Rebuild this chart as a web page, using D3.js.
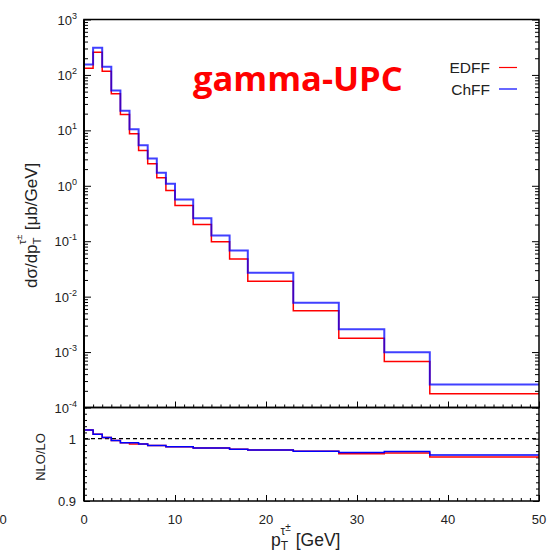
<!DOCTYPE html>
<html><head><meta charset="utf-8">
<script src="https://cdn.jsdelivr.net/npm/d3@7"></script>
<style>
html,body{margin:0;padding:0;background:#fff;}
svg{display:block;}
text{font-family:"Liberation Sans",Arial,sans-serif;fill:#222;}
</style></head>
<body><svg id="c" width="551" height="552"></svg>
<script>
// ---- data ----
const binEdges = [0,1,2,3,4,5,6,7,8,9,10,12,14,16,18,23,28,33,38,50];
const edffValues = [132,257,117,45.6,19.3,8.67,4.33,2.49,1.39,0.822,0.441,0.200,0.0975,0.048,0.019,0.00556,0.00178,0.000676,0.000177];
const chffValues = [154,308,140,52.4,22.5,10.5,5.39,3.10,1.71,1.09,0.566,0.260,0.127,0.068,0.0269,0.00774,0.00259,0.000995,0.00026];
const edffRatio = [1.014,1.007,1.002,0.997,0.9935,0.9915,0.9915,0.989,0.989,0.987,0.987,0.985,0.985,0.983,0.9818,0.980,0.9758,0.977,0.9705];
const chffRatio = [1.014,1.007,1.002,0.997,0.9935,0.9935,0.9915,0.989,0.989,0.987,0.987,0.985,0.985,0.983,0.9818,0.980,0.978,0.9795,0.9737];
const xTickLabels = [0,10,20,30,40,50];
const yExponents = [3,2,1,0,-1,-2,-3,-4];
const ratioTickLabels = [1,0.9];
const seriesNames = ["EDFF","ChFF"];
const seriesColors = ["#ff0000","#0000ff"];

const svg = d3.select("#c");
const X0 = 84, X1 = 539, YT = 19.5, YM = 407.5, YB = 501;
const x = d3.scaleLinear().domain([0,50]).range([X0,X1]);
const y = d3.scaleLog().domain([1e-4,1e3]).range([YM,YT]);
const yr = d3.scaleLinear().domain([0.9,1.05]).range([YB,YM]);

function stepPath(vals, sc){
  const pts = vals.map((v,i)=>[binEdges[i],v]);
  pts.push([binEdges[binEdges.length-1], vals[vals.length-1]]);
  return d3.line().x(d=>x(d[0])).y(d=>sc(d[1])).curve(d3.curveStepAfter)(pts);
}

// main panel ticks
const majY = yExponents.map(e=>Math.pow(10,e));
const minY = [];
for(let e=-4;e<3;e++) for(let m=2;m<=9;m++) minY.push(m*Math.pow(10,e));
function axisG(gen, tx){ const g = svg.append("g").attr("transform",tx).call(gen); g.select(".domain").remove(); g.selectAll("line").attr("stroke","#000").attr("stroke-width",1); return g; }
axisG(d3.axisLeft(y).tickValues(majY).tickSize(-7).tickFormat(""), `translate(${X0},0)`);
axisG(d3.axisLeft(y).tickValues(minY).tickSize(-4).tickFormat(""), `translate(${X0},0)`);
axisG(d3.axisRight(y).tickValues(majY).tickSize(-7).tickFormat(""), `translate(${X1},0)`);
axisG(d3.axisRight(y).tickValues(minY).tickSize(-4).tickFormat(""), `translate(${X1},0)`);
const majX = d3.range(0,51,10), minX = d3.range(0,51,1).filter(v=>v%10);
axisG(d3.axisBottom(x).tickValues(majX).tickSize(-6).tickFormat(""), `translate(0,${YM})`);
axisG(d3.axisBottom(x).tickValues(minX).tickSize(-3).tickFormat(""), `translate(0,${YM})`);
// ratio panel ticks
axisG(d3.axisBottom(x).tickValues(majX).tickSize(-6).tickFormat(""), `translate(0,${YB})`);
axisG(d3.axisBottom(x).tickValues(minX).tickSize(-3).tickFormat(""), `translate(0,${YB})`);
const rMaj = [0.9,1.0], rMin = d3.range(0.91,1.051,0.01).filter(v=>Math.abs(v-1)>0.001);
axisG(d3.axisLeft(yr).tickValues(rMaj).tickSize(-6).tickFormat(""), `translate(${X0},0)`);
axisG(d3.axisLeft(yr).tickValues(rMin).tickSize(-3).tickFormat(""), `translate(${X0},0)`);
axisG(d3.axisRight(yr).tickValues(rMaj).tickSize(-6).tickFormat(""), `translate(${X1},0)`);
axisG(d3.axisRight(yr).tickValues(rMin).tickSize(-3).tickFormat(""), `translate(${X1},0)`);

// dashed line at 1
svg.append("line").attr("x1",X0).attr("x2",X1).attr("y1",yr(1)).attr("y2",yr(1))
  .attr("stroke","#000").attr("stroke-width",1.2).attr("stroke-dasharray","4,3");

// histograms
svg.append("path").attr("d",stepPath(edffValues,y)).attr("fill","none").attr("stroke",seriesColors[0]).attr("stroke-width",1.5);
svg.append("path").attr("d",stepPath(chffValues,y)).attr("fill","none").attr("stroke",seriesColors[1]).attr("stroke-width",2).attr("stroke-opacity",0.75);
svg.append("path").attr("d",stepPath(edffRatio,yr)).attr("fill","none").attr("stroke",seriesColors[0]).attr("stroke-width",1.5);
svg.append("path").attr("d",stepPath(chffRatio,yr)).attr("fill","none").attr("stroke",seriesColors[1]).attr("stroke-width",1.5);

// frames
svg.append("rect").attr("x",X0).attr("y",YT).attr("width",X1-X0).attr("height",YM-YT).attr("fill","none").attr("stroke","#000").attr("stroke-width",1.5);
svg.append("rect").attr("x",X0).attr("y",YM).attr("width",X1-X0).attr("height",YB-YM).attr("fill","none").attr("stroke","#000").attr("stroke-width",1.5);
svg.append("line").attr("x1",X0).attr("x2",X0).attr("y1",YT).attr("y2",YB).attr("stroke","#000").attr("stroke-width",2);

// y tick labels (main)
yExponents.forEach(e=>{
  const t = svg.append("text").attr("x",77).attr("y",y(Math.pow(10,e))+5).attr("text-anchor","end").attr("font-size",13);
  t.append("tspan").text("10");
  t.append("tspan").attr("dy",-6).attr("font-size",9).text(e<0?"-"+(-e):String(e));
});
// ratio tick labels
ratioTickLabels.forEach(v=>{
  svg.append("text").attr("x",76).attr("y",yr(v)+5).attr("text-anchor","end").attr("font-size",13).text(v===1?"1":"0.9");
});
// x tick labels
xTickLabels.forEach(v=>{
  svg.append("text").attr("x",x(v)).attr("y",524).attr("text-anchor","middle").attr("font-size",13).text(v);
});
svg.append("text").attr("x",3).attr("y",524).attr("text-anchor","middle").attr("font-size",13).text("0");

// axis titles
const xl = svg.append("text").attr("x",271).attr("y",546).attr("font-size",17.5);
xl.append("tspan").text("p");
xl.append("tspan").attr("font-size",12).attr("dy",4).text("T");
xl.append("tspan").attr("font-size",12).attr("dx",-7.5).attr("dy",-15).text("τ");
xl.append("tspan").attr("font-size",10).attr("dy",-4).text("±");
xl.append("tspan").attr("dy",15).text(" [GeV]");

const yl = svg.append("text").attr("transform","translate(37,288) rotate(-90)").attr("font-size",17);
yl.append("tspan").text("dσ/dp");
yl.append("tspan").attr("font-size",11.5).attr("dy",4).text("T");
yl.append("tspan").attr("font-size",11.5).attr("dx",-7).attr("dy",-15).text("τ");
yl.append("tspan").attr("font-size",9).attr("dy",-4).text("±");
yl.append("tspan").attr("dy",15).text(" [μb/GeV]");

svg.append("text").attr("transform",`translate(45,457) rotate(-90)`).attr("text-anchor","middle").attr("font-size",13).text("NLO/LO");

// title
svg.append("text").attr("x",193).attr("y",91)
  .style("font-family","'Open Sans',sans-serif").style("font-weight","bold")
  .style("font-size","34.5px").style("fill","#ff0000").text("gamma-UPC");

// legend
seriesNames.forEach((n,i)=>{
  const yy = 67.5 + i*21.5;
  svg.append("text").attr("x",490).attr("y",yy+5.5).attr("text-anchor","end").attr("font-size",15.5).text(n);
  svg.append("line").attr("x1",499).attr("x2",517).attr("y1",yy).attr("y2",yy).attr("stroke",seriesColors[i]).attr("stroke-width",1.2);
});
</script></body></html>
